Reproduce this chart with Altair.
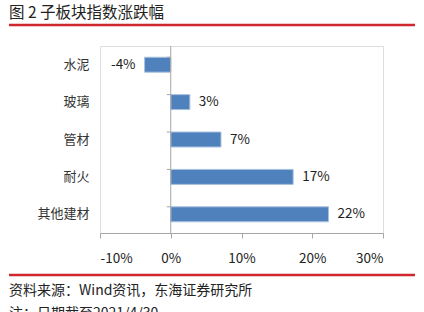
import altair as alt
import pandas as pd

categories = ["水泥", "玻璃", "管材", "耐火", "其他建材"]
values = [-3.7, 2.7, 7.1, 17.3, 22.3]
labels = ["-4%", "3%", "7%", "17%", "22%"]
x_ticks = [-10, 0, 10, 20, 30]

title_text = "图 2 子板块指数涨跌幅"
source_text = "资料来源：Wind资讯，东海证券研究所"
note_text = "注：日期截至2021/4/30"

FONT = "Noto Sans CJK SC"
W, H = 283, 187
GRAY = "#a6a6a6"

df = pd.DataFrame({"cat": categories, "val": values, "label": labels})
one = pd.DataFrame({"a": [0]})

yscale = alt.Scale(paddingInner=0.6, paddingOuter=0.3)
yaxis = alt.Axis(orient="left", domain=False, ticks=False, labelPadding=11,
                 labelFontSize=13, labelColor="#333", labelFont=FONT, title=None)
xscale = alt.Scale(domain=[x_ticks[0], x_ticks[-1]])
xaxis = alt.Axis(values=x_ticks, labelExpr="datum.value + '%'", grid=False,
                 domainColor=GRAY, tickColor=GRAY, tickSize=5,
                 labelFontSize=13.5, labelColor="#222", labelPadding=13,
                 labelFont=FONT, title=None)

def Y(**kw):
    return alt.Y("cat:N", sort=categories, scale=yscale, axis=yaxis, **kw)

bars = alt.Chart(df).mark_bar(color="#4f81bd", stroke="#a9c0df", strokeWidth=1).encode(
    x=alt.X("val:Q", scale=xscale, axis=xaxis),
    y=Y(),
)

zero_line = alt.Chart(one).mark_rule(color=GRAY, strokeWidth=1).encode(x=alt.datum(0))

zero_ticks = alt.Chart(df).mark_rule(color=GRAY, strokeWidth=1, xOffset=-4).encode(
    x=alt.datum(0), x2=alt.datum(0),
    y=Y(bandPosition=0),
)

pos_text = alt.Chart(df).transform_filter("datum.val >= 0").mark_text(
    align="left", baseline="middle", dx=9, fontSize=13.5, font=FONT, color="#222"
).encode(x=alt.X("val:Q", scale=xscale, axis=xaxis), y=Y(), text="label:N")

neg_text = alt.Chart(df).transform_filter("datum.val < 0").mark_text(
    align="right", baseline="middle", dx=-9, fontSize=13.5, font=FONT, color="#222"
).encode(x=alt.X("val:Q", scale=xscale, axis=xaxis), y=Y(), text="label:N")

RED = "#d0262d"
top_line = alt.Chart(one).mark_rule(color=RED, strokeWidth=2.5).encode(
    x=alt.value(-91), x2=alt.value(315), y=alt.value(-21))
bot_line = alt.Chart(one).mark_rule(color=RED, strokeWidth=2.5).encode(
    x=alt.value(-91), x2=alt.value(315), y=alt.value(229))

title = alt.Chart(one).mark_text(align="left", baseline="middle", fontSize=15.5, font=FONT,
                                 color="#222").encode(
    x=alt.value(-91), y=alt.value(-33), text=alt.value(title_text))
source = alt.Chart(one).mark_text(align="left", baseline="middle", fontSize=14, font=FONT,
                                  color="#222").encode(
    x=alt.value(-91), y=alt.value(245), text=alt.value(source_text))
note = alt.Chart(one).mark_text(align="left", baseline="top", fontSize=14, font=FONT,
                                color="#222").encode(
    x=alt.value(-91), y=alt.value(261), text=alt.value(note_text))

chart = alt.layer(bars, zero_line, zero_ticks, pos_text, neg_text,
                  top_line, bot_line, title, source, note).properties(
    width=W, height=H, autosize="none",
    padding={"left": 100, "top": 46, "right": 41, "bottom": 79},
).configure_view(stroke=None).configure(background="white")

chart.save("out.html", embed_options={"renderer": "svg", "actions": False})
